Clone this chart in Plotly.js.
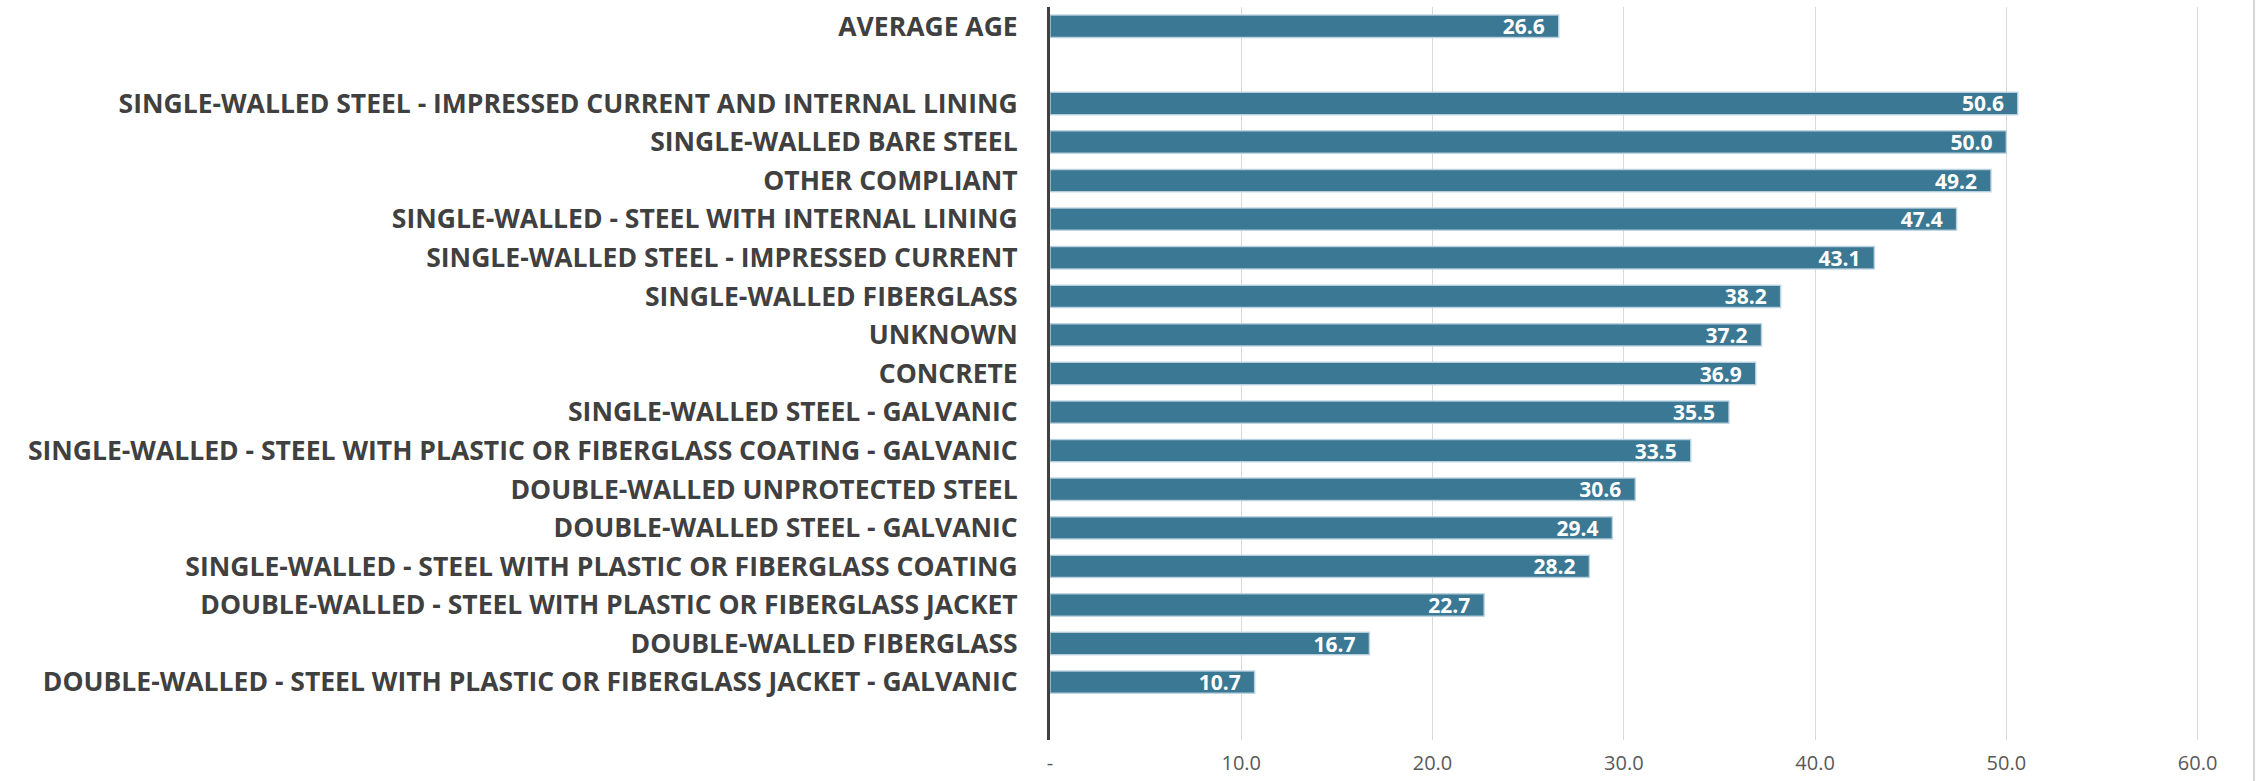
<!DOCTYPE html>
<html>
<head>
<meta charset="utf-8">
<script src="https://cdn.plot.ly/plotly-3.0.1.min.js"></script>
<style>
  html, body { margin: 0; padding: 0; background: #ffffff; }
  #chart { width: 2259px; height: 781px; }
</style>
</head>
<body>
<div id="chart"></div>
<script>
// Categories, top to bottom (blank entries are empty rows in the original chart)
const categories = [
  "AVERAGE AGE",
  " ",
  "SINGLE-WALLED STEEL - IMPRESSED CURRENT AND INTERNAL LINING",
  "SINGLE-WALLED BARE STEEL",
  "OTHER COMPLIANT",
  "SINGLE-WALLED - STEEL WITH INTERNAL LINING",
  "SINGLE-WALLED STEEL - IMPRESSED CURRENT",
  "SINGLE-WALLED FIBERGLASS",
  "UNKNOWN",
  "CONCRETE",
  "SINGLE-WALLED STEEL - GALVANIC",
  "SINGLE-WALLED - STEEL WITH PLASTIC OR FIBERGLASS COATING - GALVANIC",
  "DOUBLE-WALLED UNPROTECTED STEEL",
  "DOUBLE-WALLED STEEL - GALVANIC",
  "SINGLE-WALLED - STEEL WITH PLASTIC OR FIBERGLASS COATING",
  "DOUBLE-WALLED - STEEL WITH PLASTIC OR FIBERGLASS JACKET",
  "DOUBLE-WALLED FIBERGLASS",
  "DOUBLE-WALLED - STEEL WITH PLASTIC OR FIBERGLASS JACKET - GALVANIC",
  "  "
];
const averageAge = [
  26.6, null, 50.6, 50.0, 49.2, 47.4, 43.1, 38.2, 37.2, 36.9,
  35.5, 33.5, 30.6, 29.4, 28.2, 22.7, 16.7, 10.7, null
];
const xTickValues = [0, 10, 20, 30, 40, 50, 60];
const xTickLabels = ["-", "10.0", "20.0", "30.0", "40.0", "50.0", "60.0"];

const trace = {
  type: "bar",
  orientation: "h",
  y: categories,
  x: averageAge,
  marker: {
    color: "#3a7893",
    line: { color: "rgba(190,212,225,0.9)", width: 1.5 }
  },
  texttemplate: "%{x:.1f}&nbsp;&nbsp;",
  textposition: "inside",
  insidetextanchor: "end",
  constraintext: "none",
  textfont: { family: "Open Sans", size: 21, color: "#ffffff", weight: 700 },
  cliponaxis: false,
  hoverinfo: "x+y"
};

const layout = {
  width: 2259,
  height: 781,
  margin: { l: 1050, r: 5, t: 7, b: 41 },
  paper_bgcolor: "#ffffff",
  plot_bgcolor: "#ffffff",
  showlegend: false,
  bargap: 0.42,
  font: { family: "Open Sans", color: "#404040" },
  xaxis: {
    range: [0, 62.95],
    tickmode: "array",
    tickvals: xTickValues,
    ticktext: xTickLabels,
    showgrid: true,
    gridcolor: "#d9d9d9",
    gridwidth: 1,
    zeroline: false,
    showline: false,
    ticks: "",
    ticklabelstandoff: 9,
    tickfont: { family: "Open Sans", size: 20, color: "#595959" }
  },
  yaxis: {
    type: "category",
    categoryorder: "array",
    categoryarray: categories,
    range: [18.5, -0.5],
    showgrid: false,
    zeroline: false,
    showline: true,
    linecolor: "#404040",
    linewidth: 3,
    ticks: "",
    ticklabelstandoff: 24,
    tickfont: { family: "Open Sans", size: 26.5, color: "#404040", weight: 700 }
  },
  shapes: [{
    type: "line", xref: "paper", yref: "paper",
    x0: 1, x1: 1, y0: -0.06, y1: 1.01,
    line: { color: "#d6d6d6", width: 2 }
  }]
};

Plotly.newPlot("chart", [trace], layout, { displayModeBar: false, staticPlot: true });
</script>
</body>
</html>
